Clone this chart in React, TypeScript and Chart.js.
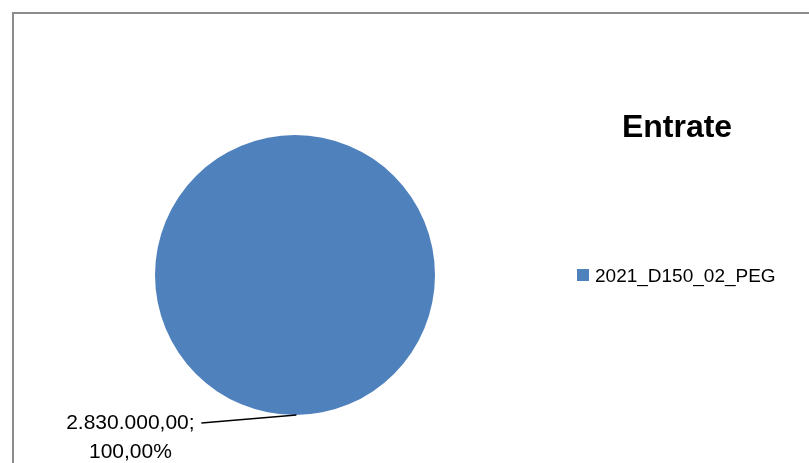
import React, { useEffect, useRef } from "react";
import { Chart, registerables } from "chart.js";

Chart.register(...registerables);

const title = "Entrate";
const categories = ["2021_D150_02_PEG"];
const values = [2830000];
const colors = ["#4F81BD"];

function fmtIt(n: number, dec: number): string {
  const fixed = n.toFixed(dec);
  const [int, frac] = fixed.split(".");
  const withDots = int.replace(/\B(?=(\d{3})+(?!\d))/g, ".");
  return frac ? withDots + "," + frac : withDots;
}

const FONT = "'Liberation Sans', Arial, sans-serif";

const decorPlugin = {
  id: "decor",
  beforeDraw(chart: any) {
    const ctx = chart.ctx;
    ctx.save();
    ctx.fillStyle = "#ffffff";
    ctx.fillRect(0, 0, chart.width, chart.height);
    ctx.strokeStyle = "#8c8c8c";
    ctx.lineWidth = 2;
    ctx.strokeRect(13, 13, chart.width + 20, chart.height + 20);
    ctx.restore();
  },
  afterDraw(chart: any) {
    const ctx = chart.ctx;
    ctx.save();
    // title
    ctx.fillStyle = "#000";
    ctx.font = `bold 32px ${FONT}`;
    ctx.textAlign = "center";
    ctx.textBaseline = "alphabetic";
    ctx.fillText(title, 677, 137);
    // legend
    const ds = chart.data.datasets[0];
    chart.data.labels.forEach((lab: string, i: number) => {
      ctx.fillStyle = ds.backgroundColor[i];
      ctx.fillRect(577, 269 + i * 26, 12, 12);
      ctx.fillStyle = "#000";
      ctx.font = `19px ${FONT}`;
      ctx.textAlign = "left";
      ctx.fillText(lab, 595, 282 + i * 26);
    });
    // data label
    const meta = chart.getDatasetMeta(0);
    const total = ds.data.reduce((a: number, b: number) => a + b, 0);
    meta.data.forEach((arc: any, i: number) => {
      const p = arc.getProps(["x", "y", "outerRadius"], true);
      const ang = Math.PI / 2 - 0.01;
      const ax = p.x + p.outerRadius * Math.cos(ang);
      const ay = p.y + p.outerRadius * Math.sin(ang);
      const lx = ax - 95;
      const ly = ay + 8;
      ctx.strokeStyle = "#000";
      ctx.lineWidth = 1.5;
      ctx.beginPath();
      ctx.moveTo(ax, ay);
      ctx.lineTo(lx, ly);
      ctx.stroke();
      ctx.fillStyle = "#000";
      ctx.font = `21px ${FONT}`;
      ctx.textAlign = "center";
      const v = ds.data[i];
      ctx.fillText(fmtIt(v, 2) + ";", lx - 71, ly + 6);
      ctx.fillText(fmtIt((v / total) * 100, 2) + "%", lx - 71, ly + 35);
    });
    ctx.restore();
  },
};

export default function App() {
  const ref = useRef<HTMLCanvasElement>(null);
  useEffect(() => {
    if (!ref.current) return;
    const chart = new Chart(ref.current, {
      type: "pie",
      data: {
        labels: categories,
        datasets: [
          {
            data: values,
            backgroundColor: colors,
            borderWidth: 0,
          },
        ],
      },
      options: {
        responsive: false,
        animation: false,
        layout: { padding: { left: 155, right: 374, top: 135, bottom: 48 } },
        plugins: {
          legend: { display: false },
          title: { display: false },
          tooltip: { enabled: false },
        },
      },
      plugins: [decorPlugin],
    });
    return () => chart.destroy();
  }, []);
  return (
    <div style={{ position: "absolute", left: 0, top: 0 }}>
      <canvas ref={ref} width={809} height={463} style={{ display: "block" }} />
    </div>
  );
}
